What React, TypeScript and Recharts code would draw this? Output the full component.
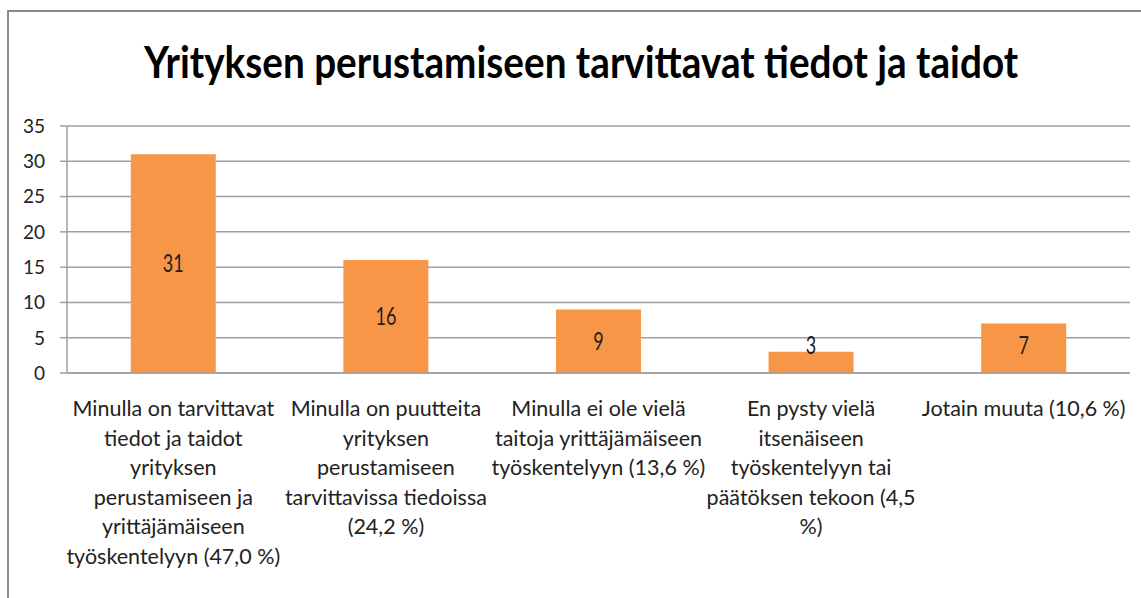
import React from "react";
import { BarChart, Bar, XAxis, YAxis, CartesianGrid, LabelList } from "recharts";

const title = "Yrityksen perustamiseen tarvittavat tiedot ja taidot";

const categories = [
  "Minulla on tarvittavat\ntiedot ja taidot\nyrityksen\nperustamiseen ja\nyrittäjämäiseen\ntyöskentelyyn (47,0 %)",
  "Minulla on puutteita\nyrityksen\nperustamiseen\ntarvittavissa tiedoissa\n(24,2 %)",
  "Minulla ei ole vielä\ntaitoja yrittäjämäiseen\ntyöskentelyyn (13,6 %)",
  "En pysty vielä\nitsenäiseen\ntyöskentelyyn tai\npäätöksen tekoon (4,5\n%)",
  "Jotain muuta (10,6 %)",
];

const values = [31, 16, 9, 3, 7];

const yTicks = [0, 5, 10, 15, 20, 25, 30, 35];

const data = categories.map((name, i) => ({ name, value: values[i] }));

const FONT = "Lato, 'Open Sans', sans-serif";
const GRID = "#9f9f9f";
const BAR = "#f79646";

function XTick({ x, y, payload }: any) {
  const lines = String(payload.value).split("\n");
  return (
    <g>
      {lines.map((line, i) => (
        <text
          key={i}
          x={x}
          y={y + 35 + i * 29.5}
          textAnchor="middle"
          fontFamily={FONT}
          fontSize={21.5}
          fill="#222"
        >
          {line}
        </text>
      ))}
    </g>
  );
}

function YTick({ x, y, payload }: any) {
  return (
    <text
      x={x - 13}
      y={y}
      dy="0.36em"
      textAnchor="end"
      fontFamily={FONT}
      fontSize={19}
      fill="#222"
    >
      {payload.value}
    </text>
  );
}

// Excel keeps short-bar labels a bit above the axis
function ValueLabel({ x, y, width, height, value }: any) {
  const bottom = y + height;
  const cy = Math.min(y + height / 2, bottom - 28);
  const cx = x + width / 2;
  return (
    <g transform={`translate(${cx},${cy}) scale(1,1.35)`}>
      <text
        x={0}
        y={0}
        dy="0.36em"
        textAnchor="middle"
        fontFamily={FONT}
        fontSize={18}
        fill="#222"
      >
        {value}
      </text>
    </g>
  );
}

export default function App() {
  return (
    <div
      style={{
        position: "absolute",
        left: 0,
        top: 0,
        width: 1141,
        height: 598,
        background: "#fff",
        overflow: "hidden",
      }}
    >
      <div
        style={{
          position: "absolute",
          left: 7,
          top: 10,
          width: 1200,
          height: 700,
          borderLeft: "2px solid #8c8c8c",
          borderTop: "2px solid #8c8c8c",
        }}
      />
      <svg
        width={1141}
        height={120}
        style={{ position: "absolute", left: 0, top: 0 }}
      >
        <g transform="translate(581,78) scale(1,1.11)">
          <text
            x={0}
            y={0}
            textAnchor="middle"
            fontFamily={FONT}
            fontWeight="bold"
            fontSize={38.7}
            fill="#000"
          >
            {title}
          </text>
        </g>
      </svg>
      <div style={{ position: "absolute", left: 0, top: 0 }}>
        <BarChart
          width={1141}
          height={598}
          data={data}
          margin={{ top: 126, right: 11, left: 0, bottom: 0 }}
          barCategoryGap="30%"
        >
          <CartesianGrid vertical={false} stroke={GRID} strokeWidth={1.5} />
          <XAxis
            dataKey="name"
            interval={0}
            height={225}
            tickLine={false}
            axisLine={{ stroke: GRID, strokeWidth: 1.5 }}
            tick={<XTick />}
          />
          <YAxis
            width={67}
            domain={[0, 35]}
            ticks={yTicks}
            interval={0}
            tickSize={7}
            tickLine={{ stroke: GRID, strokeWidth: 1.5 }}
            axisLine={{ stroke: GRID, strokeWidth: 1.5 }}
            tick={<YTick />}
          />
          <Bar dataKey="value" fill={BAR} isAnimationActive={false}>
            <LabelList dataKey="value" content={<ValueLabel />} />
          </Bar>
        </BarChart>
      </div>
    </div>
  );
}
